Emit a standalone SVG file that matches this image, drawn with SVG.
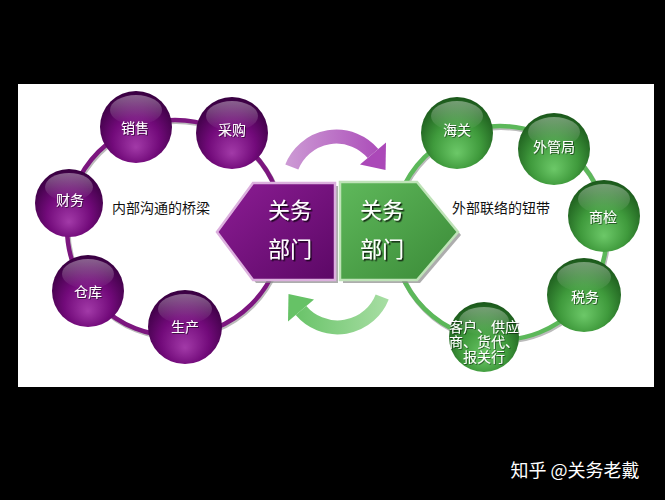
<svg xmlns="http://www.w3.org/2000/svg" width="665" height="500" viewBox="0 0 665 500">
<defs>
<radialGradient id="sphP" cx="50%" cy="62%" r="60%" fx="50%" fy="78%">
<stop offset="0" stop-color="#a23aa8"/>
<stop offset="0.55" stop-color="#720a7a"/>
<stop offset="1" stop-color="#3a0042"/>
</radialGradient>
<radialGradient id="sphG" cx="50%" cy="62%" r="60%" fx="50%" fy="78%">
<stop offset="0" stop-color="#6cc868"/>
<stop offset="0.55" stop-color="#3f9a3c"/>
<stop offset="1" stop-color="#1c5a1c"/>
</radialGradient>
<linearGradient id="hl" x1="0" y1="0" x2="0" y2="1">
<stop offset="0" stop-color="#ffffff" stop-opacity="0.38"/>
<stop offset="1" stop-color="#ffffff" stop-opacity="0"/>
</linearGradient>
<linearGradient id="arP" gradientUnits="userSpaceOnUse" x1="285" y1="0" x2="390" y2="0">
<stop offset="0" stop-color="#cd9bd5"/>
<stop offset="1" stop-color="#a845b6"/>
</linearGradient>
<linearGradient id="arG" gradientUnits="userSpaceOnUse" x1="285" y1="0" x2="390" y2="0">
<stop offset="0" stop-color="#a8dea4"/>
<stop offset="1" stop-color="#62c062"/>
</linearGradient>
<linearGradient id="boxP" x1="0" y1="0" x2="1" y2="1">
<stop offset="0" stop-color="#8c1d94"/>
<stop offset="1" stop-color="#5c0866"/>
</linearGradient>
<linearGradient id="boxG" x1="0" y1="0" x2="1" y2="1">
<stop offset="0" stop-color="#5fb85b"/>
<stop offset="1" stop-color="#3a8a37"/>
</linearGradient>
<filter id="ts" x="-20%" y="-20%" width="140%" height="140%">
<feDropShadow dx="1.5" dy="1.5" stdDeviation="0.6" flood-color="#000" flood-opacity="0.8"/>
</filter>
<filter id="ts2" x="-20%" y="-20%" width="140%" height="140%">
<feDropShadow dx="0.8" dy="0.8" stdDeviation="0.4" flood-color="#000" flood-opacity="0.6"/>
</filter>
</defs>
<style>
text{font-family:"Noto Sans CJK SC","Liberation Sans",sans-serif;text-anchor:middle}
.lbl{font-size:14px;fill:#ffffff;filter:url(#ts2)}
.big{font-size:22px;fill:#ffffff;filter:url(#ts)}
.cap{font-size:14px;fill:#111111}
.hl{fill:url(#hl)}
</style>
<rect x="0" y="0" width="665" height="500" fill="#000000"/>
<rect x="18" y="84" width="636" height="303" fill="#ffffff"/>

<g id="connectors">
<circle cx="176" cy="229.5" r="108" fill="none" stroke="#bbbbbb" stroke-width="5"/>
<circle cx="175" cy="228" r="108" fill="none" stroke="#7c167f" stroke-width="4.5"/>
<circle cx="501" cy="234.5" r="107" fill="none" stroke="#bbbbbb" stroke-width="5"/>
<circle cx="500" cy="233" r="107" fill="none" stroke="#5cb85a" stroke-width="4.5"/>
<g id="arrow-top">
<path d="M291.8,167 A48,48 0 0 1 373,153.5" fill="none" stroke="url(#arP)" stroke-width="14"/>
<polygon points="386,142.5 360,164.5 385.5,170" fill="#ab48b8"/>
</g>
<g id="arrow-bottom" transform="rotate(180 337 232)">
<path d="M291.8,167 A48,48 0 0 1 373,153.5" fill="none" stroke="url(#arG)" stroke-width="14"/>
<polygon points="386,142.5 360,164.5 385.5,170" fill="#66c266"/>
</g>
</g>

<g id="hub-internal">
<polygon points="220,235 256,186 338,186 338,283 256,283" fill="#8a8a8a" opacity="0.7"/>
<polygon points="217,232 253,183 335,183 335,280 253,280" fill="url(#boxP)" stroke="#dcb0de" stroke-width="2.5"/>
<text class="big" x="290" y="218">关务</text>
<text class="big" x="290" y="257">部门</text>
</g>
<g id="hub-external">
<polygon points="343,185 420,185 461,235 420,283 343,283" fill="#8a8a8a" opacity="0.7"/>
<polygon points="340,182 417,182 458,232 417,280 340,280" fill="url(#boxG)" stroke="#bfe3b8" stroke-width="2.5"/>
<text class="big" x="382" y="218">关务</text>
<text class="big" x="382" y="257">部门</text>
</g>

<text class="cap" x="161" y="213">内部沟通的桥梁</text>
<text class="cap" x="501" y="213">外部联络的钮带</text>

<g id="n-xiaoshou">
<circle cx="136" cy="127" r="36" fill="url(#sphP)"/>
<ellipse cx="136" cy="110" rx="26" ry="15" class="hl"/>
<text class="lbl" x="135" y="133">销售</text>
</g>
<g id="n-caigou">
<circle cx="232" cy="133" r="36" fill="url(#sphP)"/>
<ellipse cx="232" cy="116" rx="26" ry="15" class="hl"/>
<text class="lbl" x="232" y="135">采购</text>
</g>
<g id="n-caiwu">
<circle cx="69" cy="203" r="34" fill="url(#sphP)"/>
<ellipse cx="69" cy="187" rx="24" ry="14" class="hl"/>
<text class="lbl" x="70" y="205">财务</text>
</g>
<g id="n-cangku">
<circle cx="88" cy="291" r="36" fill="url(#sphP)"/>
<ellipse cx="88" cy="274" rx="26" ry="15" class="hl"/>
<text class="lbl" x="88" y="297">仓库</text>
</g>
<g id="n-shengchan">
<circle cx="185" cy="327" r="37" fill="url(#sphP)"/>
<ellipse cx="185" cy="309" rx="27" ry="15" class="hl"/>
<text class="lbl" x="185" y="332">生产</text>
</g>

<g id="n-haiguan">
<circle cx="457" cy="133" r="36" fill="url(#sphG)"/>
<ellipse cx="457" cy="116" rx="26" ry="15" class="hl"/>
<text class="lbl" x="457" y="135">海关</text>
</g>
<g id="n-waiguanju">
<circle cx="554" cy="149" r="36" fill="url(#sphG)"/>
<ellipse cx="554" cy="132" rx="26" ry="15" class="hl"/>
<text class="lbl" x="554" y="152">外管局</text>
</g>
<g id="n-shangjian">
<circle cx="604" cy="216" r="36" fill="url(#sphG)"/>
<ellipse cx="604" cy="199" rx="26" ry="15" class="hl"/>
<text class="lbl" x="603" y="222">商检</text>
</g>
<g id="n-shuiwu">
<circle cx="584" cy="295" r="37" fill="url(#sphG)"/>
<ellipse cx="584" cy="277" rx="27" ry="15" class="hl"/>
<text class="lbl" x="585" y="302">税务</text>
</g>
<g id="n-kehu">
<circle cx="484" cy="337" r="35" fill="url(#sphG)"/>
<ellipse cx="484" cy="321" rx="25" ry="14" class="hl"/>
<text class="lbl" x="484" y="332">客户、供应<tspan x="484" dy="15">商、货代、</tspan><tspan x="484" dy="15">报关行</tspan></text>
</g>

<text x="575" y="477" style="font-size:18px;fill:#ffffff">知乎 @关务老戴</text>
</svg>
